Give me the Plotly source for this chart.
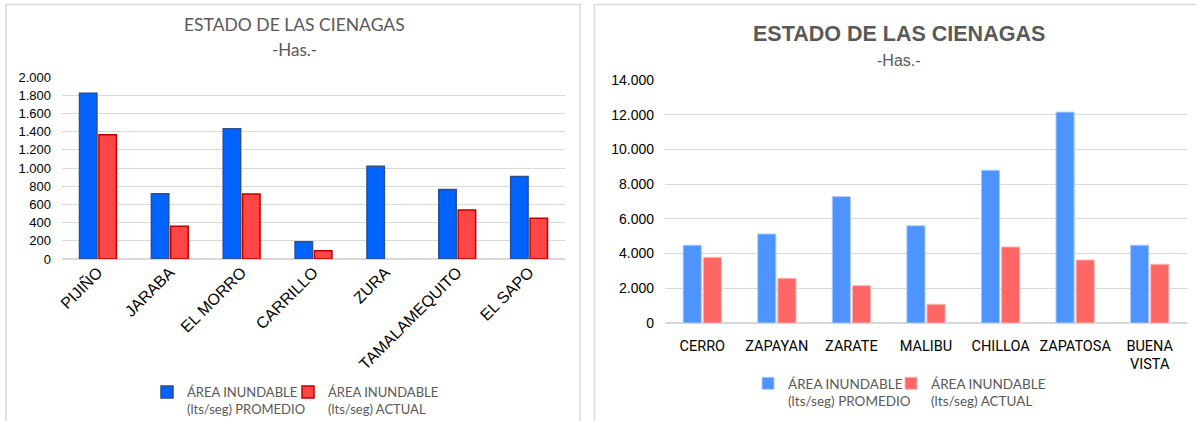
import plotly.graph_objects as go

W, H = 1196, 421

# left chart data
cienagas_a = ["PIJIÑO", "JARABA", "EL MORRO", "CARRILLO", "ZURA", "TAMALAMEQUITO", "EL SAPO"]
promedio_a = [1822, 718, 1432, 189, 1020, 765, 907]
actual_a = [1366, 361, 714, 91, 0, 539, 448]

# right chart data
cienagas_b = ["CERRO", "ZAPAYAN", "ZARATE", "MALIBU", "CHILLOA", "ZAPATOSA", "BUENA<br>VISTA"]
promedio_b = [4480, 5130, 7280, 5600, 8800, 12150, 4480]
actual_b = [3785, 2573, 2150, 1077, 4380, 3630, 3380]

serie_prom = "ÁREA INUNDABLE<br>(lts/seg) PROMEDIO"
serie_act = "ÁREA INUNDABLE<br>(lts/seg) ACTUAL"


def px_x(x):
    return x / W


def px_y(y):
    return 1 - y / H


fig = go.Figure()

# no outline on empty bars (ZURA actual is 0)
red_edge = [0 if v == 0 else 1.5 for v in actual_a]

fig.add_trace(go.Bar(x=cienagas_a, y=promedio_a, name=serie_prom, xaxis="x", yaxis="y",
                     marker=dict(color="#0062ff", line=dict(color="#2f4f8f", width=1.5)),
                     legend="legend"))
fig.add_trace(go.Bar(x=cienagas_a, y=actual_a, name=serie_act, xaxis="x", yaxis="y",
                     marker=dict(color="#ff4646", line=dict(color="#c00000", width=red_edge)),
                     legend="legend2"))
fig.add_trace(go.Bar(x=cienagas_b, y=promedio_b, name=serie_prom, xaxis="x2", yaxis="y2",
                     marker=dict(color="#4d94ff", line=dict(color="#a9c9ff", width=1)),
                     legend="legend3"))
fig.add_trace(go.Bar(x=cienagas_b, y=actual_b, name=serie_act, xaxis="x2", yaxis="y2",
                     marker=dict(color="#ff6666", line=dict(color="#ffb3b3", width=1)),
                     legend="legend4"))

grid = "#d9d9d9"
narrow = "Liberation Sans Narrow, Roboto, Liberation Sans"
calibri = "Lato, Open Sans"


def leg(x, y, size):
    return dict(orientation="h", x=px_x(x), y=px_y(y), xanchor="left", yanchor="top",
                font=dict(size=size, family=calibri, color="#595959"),
                itemwidth=30, valign="top", bgcolor="rgba(0,0,0,0)")


fig.update_layout(
    width=W, height=H,
    margin=dict(l=0, r=0, t=0, b=0, autoexpand=False),
    paper_bgcolor="white", plot_bgcolor="white",
    showlegend=True,
    separators=",.",
    barmode="group", bargap=0.46, bargroupgap=0.1,
    font=dict(family="Liberation Sans, Arial", color="black"),
    xaxis=dict(domain=[px_x(62), px_x(565)], anchor="y", tickangle=-45, showgrid=False,
               tickfont=dict(size=16, family="Liberation Sans, Arial"), ticks=""),
    yaxis=dict(domain=[px_y(259), px_y(77)], anchor="x", range=[0, 2000], dtick=200,
               tickformat=",d", gridcolor=grid, zeroline=True, zerolinecolor=grid,
               tickfont=dict(size=13), ticks="", ticklabelstandoff=10),
    xaxis2=dict(domain=[px_x(665), px_x(1187)], anchor="y2", showgrid=False, tickangle=0,
                tickfont=dict(size=14.5, family=narrow), ticks="", ticklabelstandoff=12),
    yaxis2=dict(domain=[px_y(323), px_y(80)], anchor="x2", range=[0, 14000], dtick=2000,
                tickformat=",d", gridcolor=grid, zeroline=True, zerolinecolor=grid,
                tickfont=dict(size=14, family="Liberation Sans, Arial"), ticks="",
                ticklabelstandoff=10),
    legend=leg(147, 377, 13),
    legend2=leg(288, 377, 13),
    legend3=leg(748, 368, 13.5),
    legend4=leg(891, 368, 13.5),
)

# titles
titles = [
    ("ESTADO DE LAS CIENAGAS", 294, 25, 17.5, calibri),
    ("-Has.-", 294, 50, 17, calibri),
    ("<b>ESTADO DE LAS CIENAGAS</b>", 899, 34, 21.5, "Liberation Sans, Arial"),
    ("-Has.-", 899, 60, 16, "Liberation Sans, Arial"),
]
for txt, tx, ty, sz, fam in titles:
    fig.add_annotation(text=txt, x=px_x(tx), y=px_y(ty), xref="paper", yref="paper",
                       xanchor="center", yanchor="middle", showarrow=False,
                       font=dict(size=sz, family=fam, color="#595959"))

# panel frames
fig.add_shape(type="rect", xref="paper", yref="paper", x0=px_x(6), x1=px_x(580), y0=px_y(424), y1=px_y(4.5),
              line=dict(color="#d9d9d9", width=1.5))
fig.add_shape(type="rect", xref="paper", yref="paper", x0=px_x(594.5), x1=px_x(1200), y0=px_y(424), y1=px_y(4.5),
              line=dict(color="#d9d9d9", width=1.5))

fig.write_html("out.html", config={"displayModeBar": False},
               post_script="document.body.style.margin='0px';document.body.style.overflow='hidden';")
